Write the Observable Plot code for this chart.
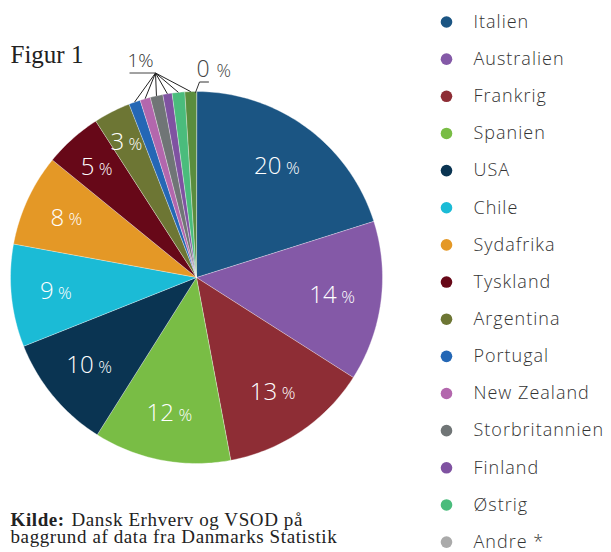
<!DOCTYPE html>
<html>
<head>
<meta charset="utf-8">
<script src="https://cdn.jsdelivr.net/npm/d3@7"></script>
<script src="https://cdn.jsdelivr.net/npm/@observablehq/plot@0.6"></script>
<style>
  html, body { margin: 0; padding: 0; background: #fff; }
  #chart svg { display: block; }
  #chart g[font-family*="Liberation Serif"][font-size="19"] text { letter-spacing: 0.6px; }
  #chart g[fill="#333"][font-size="18"] text { letter-spacing: 1px; }
</style>
</head>
<body>
<div id="chart"></div>
<script>
// ---- data ----
const sliceNames  = ["Italien","Australien","Frankrig","Spanien","USA","Chile","Sydafrika","Tyskland","Argentina","Portugal","New Zealand","Storbritannien","Finland","Østrig","Øvrige (grøn)","Andre"];
const sliceValues = [20.1, 13.9, 13.0, 11.9, 10.0, 8.9, 8.0, 5.0, 3.2, 1.0, 0.9, 1.1, 0.8, 1.1, 1.0, 0];
const sliceColors = ["#1b5583","#8459a7","#8e2d35","#79bd45","#0a3452","#1bbbd6","#e49826","#670818","#6d7634","#2467b5","#b367ad","#707576","#7f52a1","#4abc7c","#5a8d3d","#aaaaaa"];

const legendNames  = ["Italien","Australien","Frankrig","Spanien","USA","Chile","Sydafrika","Tyskland","Argentina","Portugal","New Zealand","Storbritannien","Finland","Østrig","Andre *"];
const legendColors = ["#1b5583","#8459a7","#8e2d35","#79bd45","#0a3452","#1bbbd6","#e49826","#670818","#6d7634","#2467b5","#b367ad","#707576","#7f52a1","#4abc7c","#aaaaaa"];

const figTitle = "Figur 1";
const sourceBold = "Kilde:";
const sourceLine1 = "Dansk Erhverv og VSOD på";
const sourceLine2 = "baggrund af data fra Danmarks Statistik";

// ---- layout ----
const W = 611, H = 552;
const cx = 196, cy = 277, R = 186;
const sans = "'Open Sans', Lato, sans-serif";
const serif = "'Liberation Serif', 'DejaVu Serif', serif";

const total = d3.sum(sliceValues);
let acc = 0;
const slices = sliceNames.map((name, i) => {
  const a0 = acc / total * 2 * Math.PI;
  acc += sliceValues[i];
  const a1 = acc / total * 2 * Math.PI;
  return {name, value: sliceValues[i], color: sliceColors[i], a0, a1, am: (a0 + a1) / 2};
});
const px = (a, r) => cx + r * Math.sin(a);
const py = (a, r) => cy - r * Math.cos(a);

// slice polygons
const poly = [];
for (const s of slices) {
  if (s.value <= 0) continue;
  poly.push({name: s.name, color: s.color, x: cx, y: cy});
  const n = Math.max(2, Math.ceil((s.a1 - s.a0) / (Math.PI / 180)));
  for (let k = 0; k <= n; k++) {
    const a = s.a0 + (s.a1 - s.a0) * k / n;
    poly.push({name: s.name, color: s.color, x: px(a, R), y: py(a, R)});
  }
}

// inside labels
const big = slices.filter(s => s.value >= 2.5).map(s => {
  const lr = 138 + (s.value < 10 ? (10 - s.value) * 2 : 0);
  const t = String(Math.round(s.value));
  const numW = t.length * 14, gap = 4, pctW = 16;
  const tot = numW + gap + pctW;
  const lx = px(s.am, lr), ly = py(s.am, lr);
  return {t, x0: lx - tot / 2, xp: lx - tot / 2 + numW + gap, y: ly};
});

// callouts
const hub = {x: 155, y: 72.5};
const ones = slices.filter(s => s.value >= 0.5 && s.value < 1.5);
const zero = slices.filter(s => s.value < 0.5);
const zeroLine = zero.flatMap(s => [
  {x: px(s.am, R) - 1, y: py(s.am, R) + 1},
  {x: px(s.am, R) + 3, y: py(s.am, R) - 9.5},
  {x: px(s.am, R) + 12, y: py(s.am, R) - 9.5}
]);

// legend
const legTop = 21.5, legStep = 37.15;
const legend = legendNames.map((name, i) => ({name, color: legendColors[i], y: legTop + i * legStep}));

const chart = Plot.plot({
  width: W, height: H, margin: 0,
  x: {domain: [0, W], range: [0, W], axis: null},
  y: {domain: [0, H], range: [0, H], axis: null},
  color: {type: "identity"},
  style: {background: "#fff"},
  marks: [
    Plot.line(poly, {x: "x", y: "y", z: "name", fill: "color", stroke: "#fff", strokeWidth: 0.6, strokeOpacity: 0.6, curve: "linear-closed"}),
    // big labels
    Plot.text(big, {x: "x0", y: "y", text: "t", textAnchor: "start", fill: "#fff", fontSize: 24, fontWeight: 300, fontFamily: sans}),
    Plot.text(big, {x: "xp", y: "y", text: () => "%", textAnchor: "start", dy: 2, fill: "#fff", fontSize: 17, fontWeight: 300, fontFamily: sans}),
    // 1% callout
    Plot.link(ones, {x1: hub.x, y1: hub.y, x2: s => px(s.am, R), y2: s => py(s.am, R), stroke: "#222", strokeWidth: 1}),
    Plot.link([0], {x1: hub.x - 26, x2: hub.x, y1: hub.y, y2: hub.y, stroke: "#444", strokeWidth: 1}),
    Plot.text(["1%"], {x: hub.x - 28, y: hub.y - 12, text: d => d, textAnchor: "start", fill: "#333", fontSize: 19, fontWeight: 300, fontFamily: sans}),
    // 0% callout
    Plot.line(zeroLine, {x: "x", y: "y", stroke: "#333", strokeWidth: 1}),
    Plot.text(zero, {x: s => px(s.am, R), y: s => py(s.am, R) - 22, text: () => "0", textAnchor: "start", fill: "#444", fontSize: 23, fontWeight: 300, fontFamily: sans}),
    Plot.text(zero, {x: s => px(s.am, R) + 20, y: s => py(s.am, R) - 20, text: () => "%", textAnchor: "start", fill: "#444", fontSize: 18, fontWeight: 300, fontFamily: sans}),
    // legend
    Plot.dot(legend, {x: 446, y: "y", r: 5.8, fill: "color"}),
    Plot.text(legend, {x: 473, y: "y", text: "name", textAnchor: "start", fill: "#333", fontSize: 18, fontWeight: 300, fontFamily: sans}),
    // title + source
    Plot.text([figTitle], {x: 10, y: 54, text: d => d, textAnchor: "start", fill: "#222", fontSize: 25, fontFamily: serif}),
    Plot.text([sourceBold], {x: 10, y: 519, text: d => d, textAnchor: "start", fill: "#222", fontSize: 19, fontWeight: "bold", fontFamily: serif}),
    Plot.text([sourceLine1], {x: 71, y: 519, text: d => d, textAnchor: "start", fill: "#222", fontSize: 19, fontFamily: serif}),
    Plot.text([sourceLine2], {x: 10, y: 536.5, text: d => d, textAnchor: "start", fill: "#222", fontSize: 19, fontFamily: serif})
  ]
});
document.getElementById("chart").appendChild(chart);
</script>
</body>
</html>
